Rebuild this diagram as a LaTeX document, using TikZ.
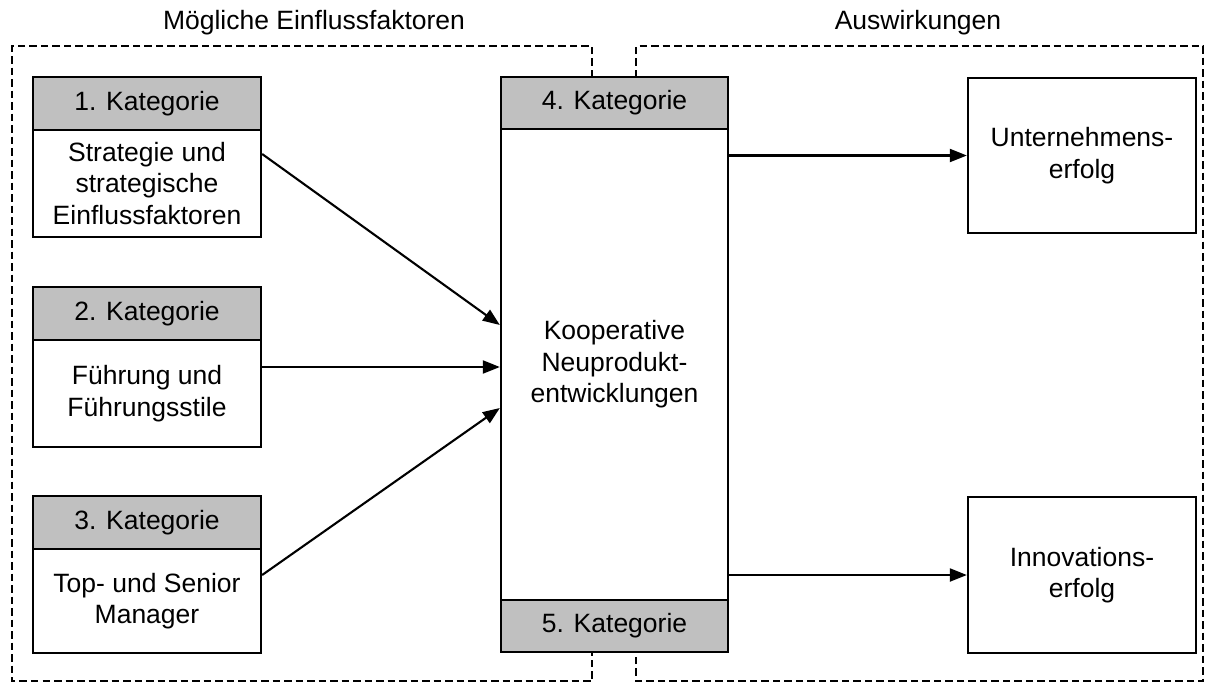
\documentclass[tikz,border=0pt]{standalone}
\usepackage{fontspec}
\setmainfont{Liberation Sans}
\usetikzlibrary{arrows.meta,calc}
\definecolor{headgray}{RGB}{192,192,192}
\begin{document}
\begin{tikzpicture}[x=1pt,y=-1pt,
  every node/.style={font=\fontsize{26.5}{31.5}\selectfont, inner sep=0pt},
  box/.style={draw, line width=2.3pt, fill=white, align=center},
  leftbox/.style={box, minimum width=228pt},
  headbox/.style={leftbox, fill=headgray, minimum height=53pt},
  frame/.style={line width=1.8pt, dash pattern=on 7.5pt off 4pt},
  link/.style={line width=2.1pt, -{Triangle[length=17pt,width=13pt]}}
]
\useasboundingbox (0,0) rectangle (1216,691);

% dashed frames of the two areas
\draw[frame] (592,77) -- (592,46) -- (12,46) -- (12,681) -- (592,681) -- (592,652);
\draw[frame] (636,77) -- (636,46) -- (1203,46) -- (1203,681) -- (636,681) -- (636,652);

% area titles
\node (t1) at (314,23) {Mögliche Einflussfaktoren};
\node (t2) at (918,23) {Auswirkungen};

% influencing factors (left column)
\node[headbox] (h1) at (147,103.5) {1. Kategorie};
\node[leftbox, minimum height=107pt] (b1) at (147,183.5) {Strategie und\\strategische\\Einflussfaktoren};
\node[headbox] (h2) at (147,313.5) {2. Kategorie};
\node[leftbox, minimum height=107pt] (b2) at (147,393.5) {Führung und\\Führungsstile};
\node[headbox] (h3) at (147,522.5) {3. Kategorie};
\node[leftbox, minimum height=104pt] (b3) at (147,601) {Top- und Senior\\Manager};

% central block
\node[box, minimum width=227pt, minimum height=471pt] (mid) at (614.5,364.5) {Kooperative\\Neuprodukt-\\entwicklungen};
\node[box, fill=headgray, minimum width=227pt, minimum height=52pt] (h4) at (614.5,103) {4. Kategorie};
\node[box, fill=headgray, minimum width=227pt, minimum height=52pt] (h5) at (614.5,626) {5. Kategorie};

% effects (right column)
\node[box, minimum width=228pt, minimum height=155pt] (u) at (1082,155.5) {Unternehmens-\\erfolg};
\node[box, minimum width=228pt, minimum height=156pt] (i) at (1082,575) {Innovations-\\erfolg};

% connectors
\draw[link] ([yshift=29.5pt]b1.east) -- ([yshift=39.5pt]mid.west);
\draw[link] ([yshift=26.5pt]b2.east) -- ([yshift=-2.5pt]mid.west);
\draw[link] ([yshift=26pt]b3.east) -- ([yshift=-43.5pt]mid.west);
\draw[link] (mid.east |- u.west) -- (u.west);
\draw[link] (mid.east |- i.west) -- (i.west);
\end{tikzpicture}
\end{document}
